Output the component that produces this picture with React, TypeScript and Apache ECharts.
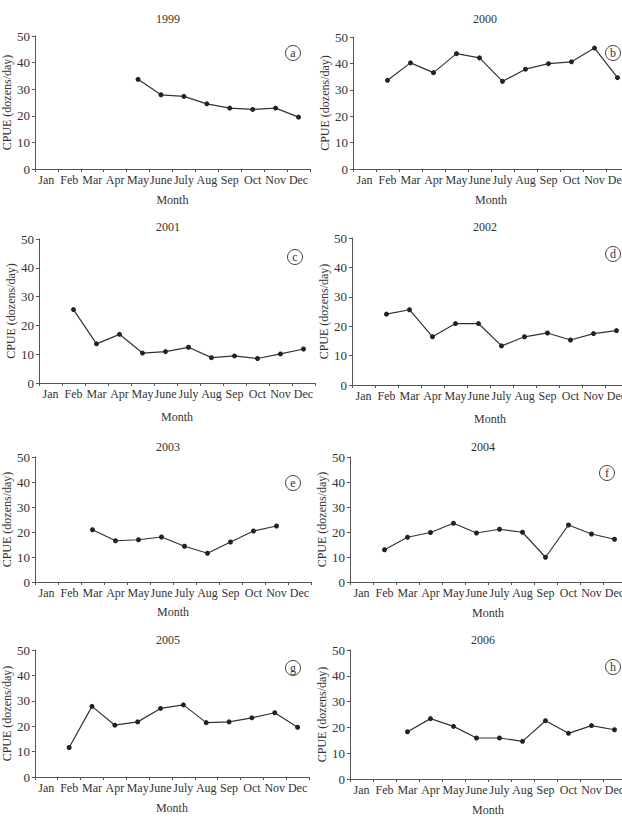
import React, { useEffect, useRef } from "react";
import * as echarts from "echarts";

const months = ["Jan", "Feb", "Mar", "Apr", "May", "June", "July", "Aug", "Sep", "Oct", "Nov", "Dec"];
const yMin = 0;
const yMax = 50;
const yStep = 10;
const years = ["1999", "2000", "2001", "2002", "2003", "2004", "2005", "2006"];
const letters = ["a", "b", "c", "d", "e", "f", "g", "h"];

const cpue1999 = [null, null, null, null, 33.7, 27.9, 27.3, 24.5, 22.9, 22.4, 22.9, 19.5];
const cpue2000 = [null, 33.6, 40.2, 36.5, 43.7, 42.1, 33.2, 37.8, 39.9, 40.6, 45.8, 34.6];
const cpue2001 = [null, 25.5, 13.6, 16.9, 10.4, 10.9, 12.4, 8.8, 9.4, 8.5, 10.1, 11.8];
const cpue2002 = [null, 24.1, 25.6, 16.4, 20.9, 20.9, 13.3, 16.4, 17.7, 15.3, 17.5, 18.5];
const cpue2003 = [null, null, 20.9, 16.5, 16.9, 18.0, 14.3, 11.5, 16.0, 20.4, 22.4, null];
const cpue2004 = [null, 12.9, 17.9, 19.8, 23.5, 19.6, 21.1, 19.9, 9.9, 22.8, 19.2, 17.1];
const cpue2005 = [null, 11.6, 27.8, 20.4, 21.7, 27.0, 28.4, 21.4, 21.7, 23.3, 25.3, 19.6];
const cpue2006 = [null, null, 18.3, 23.4, 20.4, 15.9, 15.9, 14.6, 22.6, 17.7, 20.7, 19.1];

const allSeries = [cpue1999, cpue2000, cpue2001, cpue2002, cpue2003, cpue2004, cpue2005, cpue2006];

// layout: [left, top, width, height, monthGap, titleX, titleY, circleX, circleY]
const layout = [
  [34, 36, 276, 133, 25, 168, 19, 293, 53],
  [353, 37, 276, 132, 25, 485, 19, 613, 53],
  [39, 239, 276, 144, 28, 168, 227, 295, 257],
  [352, 238, 276, 147, 28, 485, 227, 613, 254],
  [35, 457, 276, 125, 24, 168, 447, 293, 483],
  [350, 457, 276, 125, 25, 483, 447, 607, 473],
  [33, 650, 276, 127, 25, 168, 640, 293, 668],
  [350, 650, 276, 129, 25, 483, 640, 613, 667],
];

const FONT = "Liberation Serif, Times New Roman, serif";
const TEXT = "#333";
const AXIS = "#555";

export default function App() {
  const ref = useRef<HTMLDivElement>(null);
  useEffect(() => {
    if (!ref.current) return;
    const chart = echarts.init(ref.current, undefined, { renderer: "svg" });
    const grid: any[] = [];
    const xAxis: any[] = [];
    const yAxis: any[] = [];
    const series: any[] = [];
    const graphic: any[] = [];
    layout.forEach((l, i) => {
      const [left, top, width, height, monthGap, tx, ty, cx, cy] = l;
      grid.push({ left, top, width, height, containLabel: false });
      xAxis.push({
        type: "category",
        gridIndex: i,
        data: months,
        boundaryGap: true,
        name: "Month",
        nameLocation: "middle",
        nameGap: monthGap,
        nameTextStyle: { fontFamily: FONT, fontSize: 12, color: TEXT },
        axisLine: { lineStyle: { color: AXIS, width: 1 } },
        axisTick: { show: true, length: 3, inside: false, lineStyle: { color: AXIS } },
        axisLabel: { interval: 0, margin: 5, fontFamily: FONT, fontSize: 12, color: TEXT },
        splitLine: { show: false },
      });
      yAxis.push({
        type: "value",
        gridIndex: i,
        min: yMin,
        max: yMax,
        interval: yStep,
        name: "CPUE (dozens/day)",
        nameLocation: "middle",
        nameRotate: 90,
        nameGap: 20,
        nameTextStyle: { fontFamily: FONT, fontSize: 12, color: TEXT },
        axisLine: { show: true, lineStyle: { color: AXIS, width: 1 } },
        axisTick: { show: true, length: 3, lineStyle: { color: AXIS } },
        axisLabel: { margin: 5, fontFamily: FONT, fontSize: 13, color: TEXT },
        splitLine: { show: false },
      });
      series.push({
        type: "line",
        xAxisIndex: i,
        yAxisIndex: i,
        data: allSeries[i],
        connectNulls: false,
        symbol: "circle",
        symbolSize: 5,
        showSymbol: true,
        lineStyle: { color: "#333", width: 1.2 },
        itemStyle: { color: "#222" },
      });
      graphic.push({
        type: "text",
        x: tx,
        y: ty,
        style: {
          text: years[i],
          fontFamily: FONT,
          fontSize: 12,
          fill: TEXT,
          textAlign: "center",
          textVerticalAlign: "middle",
        },
      });
      graphic.push({
        type: "circle",
        shape: { cx, cy, r: 7.5 },
        style: { fill: "#fff", stroke: "#444", lineWidth: 1 },
      });
      graphic.push({
        type: "text",
        x: cx,
        y: cy,
        style: {
          text: letters[i],
          fontFamily: FONT,
          fontSize: 12,
          fill: TEXT,
          textAlign: "center",
          textVerticalAlign: "middle",
        },
      });
    });
    chart.setOption({
      animation: false,
      backgroundColor: "#fff",
      grid,
      xAxis,
      yAxis,
      series,
      graphic,
    });
    return () => chart.dispose();
  }, []);
  return (
    <div
      style={{
        position: "absolute",
        left: 0,
        top: 0,
        width: 622,
        height: 822,
        overflow: "hidden",
        background: "#fff",
      }}
    >
      <div ref={ref} style={{ width: 640, height: 822 }} />
    </div>
  );
}
